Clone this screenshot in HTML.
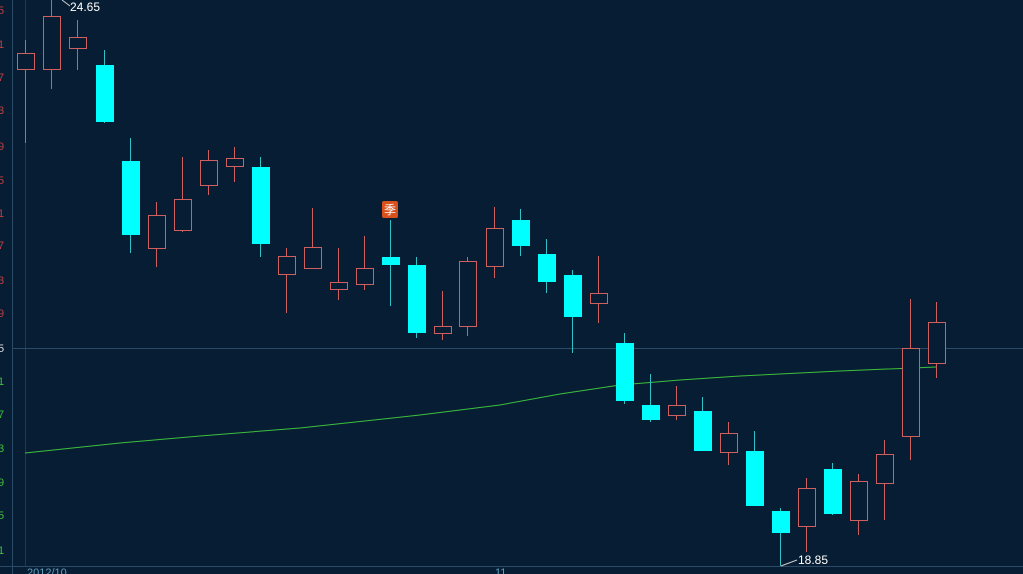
<!DOCTYPE html><html><head><style>body{margin:0;background:#071d33;}svg{display:block}</style></head><body>
<svg width="1023" height="574" xmlns="http://www.w3.org/2000/svg" font-family="Liberation Sans, sans-serif">
<rect width="1023" height="574" fill="#071d33"/>
<line x1="12.5" y1="0" x2="12.5" y2="574" stroke="#2a4a66"/>
<line x1="25.5" y1="0" x2="25.5" y2="566" stroke="#1c3a55"/>
<line x1="0" y1="566.5" x2="1023" y2="566.5" stroke="#2a4a66"/>
<line x1="12" y1="348.5" x2="1023" y2="348.5" stroke="#2c4b66"/>
<g font-size="11">
<text x="-2" y="14" fill="#c04040">5</text><text x="-2" y="48" fill="#c04040">1</text><text x="-2" y="81" fill="#c04040">7</text><text x="-2" y="114" fill="#c04040">3</text><text x="-2" y="150" fill="#c04040">9</text><text x="-2" y="184" fill="#c04040">5</text><text x="-2" y="217" fill="#c04040">1</text><text x="-2" y="249" fill="#c04040">7</text><text x="-2" y="284" fill="#c04040">3</text><text x="-2" y="317" fill="#c04040">9</text>
<text x="-2" y="352" fill="#dddddd">5</text>
<text x="-2" y="385" fill="#3cc03c">1</text><text x="-2" y="418" fill="#3cc03c">7</text><text x="-2" y="452" fill="#3cc03c">3</text><text x="-2" y="486" fill="#3cc03c">9</text><text x="-2" y="519" fill="#3cc03c">5</text><text x="-2" y="554" fill="#3cc03c">1</text>
<text x="27" y="576" fill="#5fa0c0">2012/10</text><text x="495" y="576" fill="#5fa0c0">11</text>
<text x="70" y="11" fill="#fff" font-size="12">24.65</text><line x1="62" y1="0" x2="70" y2="6" stroke="#ccc"/>
<text x="798" y="564" fill="#fff" font-size="12">18.85</text><line x1="781" y1="566" x2="797" y2="560" stroke="#ccc"/>
</g>
<polyline fill="none" stroke="#3cc03c" stroke-width="1" points="25,453 120,443 200,436 300,428 420,415 500,405 560,394 620,385 680,380 740,376 840,371 936,367"/>
<g id="c"></g>
<rect x="382" y="201" width="16" height="17" rx="2" fill="#d8501c"/><text x="390" y="214" fill="#fff" font-size="12" text-anchor="middle" font-family="Noto Sans CJK SC, sans-serif">季</text>
</svg>
<script>
var d=[[25,53,69,40,143,1],[51,16,69,0,89,1],[77,37,48,20,70,1],[104,65,122,50,123,0],[130,161,235,138,253,0],[156,215,248,202,267,1],[182,199,230,157,232,1],[208,160,185,150,195,1],[234,158,166,147,182,1],[260,167,244,157,257,0],[286,256,274,248,313,1],[312,247,268,208,268,1],[338,282,289,248,300,1],[364,268,284,236,290,1],[390,257,265,220,306,0],[416,265,333,257,338,0],[442,326,333,291,340,1],[467,261,326,257,336,1],[494,228,266,207,278,1],[520,220,246,209,256,0],[546,254,282,239,293,0],[572,275,317,270,353,0],[598,293,303,256,323,1],[624,343,401,333,404,0],[650,405,420,374,422,0],[676,405,415,386,420,1],[702,411,451,397,451,0],[728,433,452,422,465,1],[754,451,506,431,506,0],[780,511,533,508,566,0],[806,488,526,478,552,1],[832,469,514,463,515,0],[858,481,520,474,535,1],[884,454,483,440,520,1],[910,348,436,299,460,1],[936,322,363,302,378,1]];
var g=document.getElementById('c'),s='';
d.forEach(function(c){var x=c[0],col=c[5]?'#d06060':'#00ffff';
s+='<line x1="'+(x+.5)+'" y1="'+c[3]+'" x2="'+(x+.5)+'" y2="'+c[4]+'" stroke="'+(c[5]?'#d06060':'#30c0c8')+'"/>';
if(c[5])s+='<rect x="'+(x-8)+'.5" y="'+(c[1]+.5)+'" width="17" height="'+(c[2]-c[1])+'" fill="#071d33" stroke="'+col+'"/>';
else s+='<rect x="'+(x-8)+'" y="'+c[1]+'" width="18" height="'+(c[2]-c[1])+'" fill="'+col+'"/>';});
g.innerHTML=s;
</script>
</body></html>
